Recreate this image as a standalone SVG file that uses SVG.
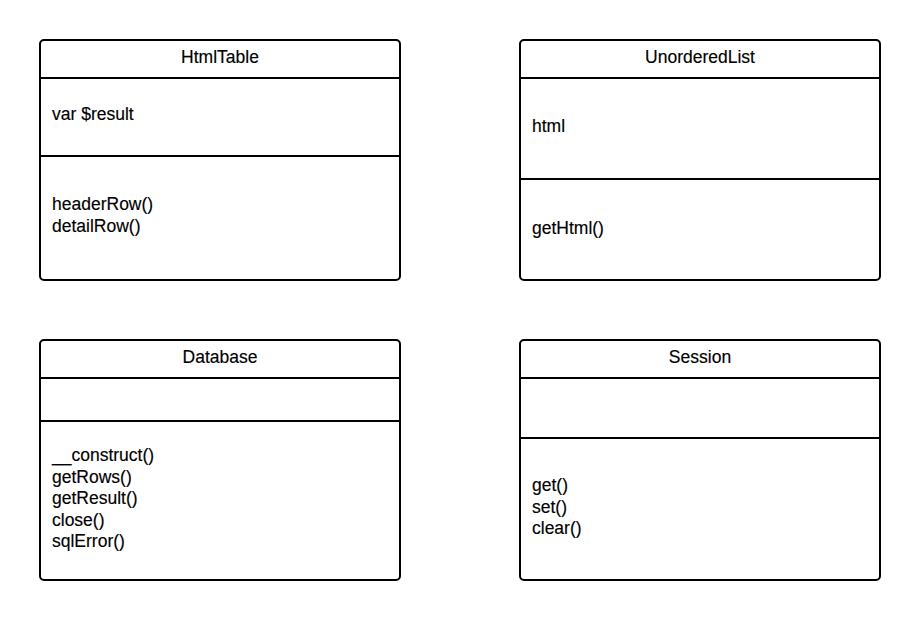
<svg xmlns="http://www.w3.org/2000/svg" width="920" height="620" viewBox="0 0 920 620">
<style>
.box{fill:#fff;stroke:#000;stroke-width:2}
.sep{stroke:#000;stroke-width:2}
text{font-family:"Liberation Sans",Arial,sans-serif;font-size:17.5px;fill:#000;stroke:#000;stroke-width:0.15}
.t{text-anchor:middle}
</style>
<rect width="920" height="620" fill="#fff"/>
<g id="HtmlTable">
<rect class="box" x="40" y="40" width="360" height="240" rx="4"/>
<line class="sep" x1="40" y1="78" x2="400" y2="78"/>
<line class="sep" x1="40" y1="156" x2="400" y2="156"/>
<text class="t" x="220" y="63">HtmlTable</text>
<text x="52" y="120">var $result</text>
<text x="52" y="210">headerRow()</text>
<text x="52" y="232">detailRow()</text>
</g>
<g id="UnorderedList">
<rect class="box" x="520" y="40" width="360" height="240" rx="4"/>
<line class="sep" x1="520" y1="78" x2="880" y2="78"/>
<line class="sep" x1="520" y1="179" x2="880" y2="179"/>
<text class="t" x="700" y="63">UnorderedList</text>
<text x="532" y="132">html</text>
<text x="532" y="234">getHtml()</text>
</g>
<g id="Database">
<rect class="box" x="40" y="340" width="360" height="240" rx="4"/>
<line class="sep" x1="40" y1="378" x2="400" y2="378"/>
<line class="sep" x1="40" y1="421" x2="400" y2="421"/>
<text class="t" x="220" y="363">Database</text>
<text x="52" y="461">__construct()</text>
<text x="52" y="482.5">getRows()</text>
<text x="52" y="504">getResult()</text>
<text x="52" y="525.5">close()</text>
<text x="52" y="547">sqlError()</text>
</g>
<g id="Session">
<rect class="box" x="520" y="340" width="360" height="240" rx="4"/>
<line class="sep" x1="520" y1="378" x2="880" y2="378"/>
<line class="sep" x1="520" y1="438" x2="880" y2="438"/>
<text class="t" x="700" y="363">Session</text>
<text x="532" y="491">get()</text>
<text x="532" y="512.5">set()</text>
<text x="532" y="534">clear()</text>
</g>
<g id="connectors"></g>
</svg>
